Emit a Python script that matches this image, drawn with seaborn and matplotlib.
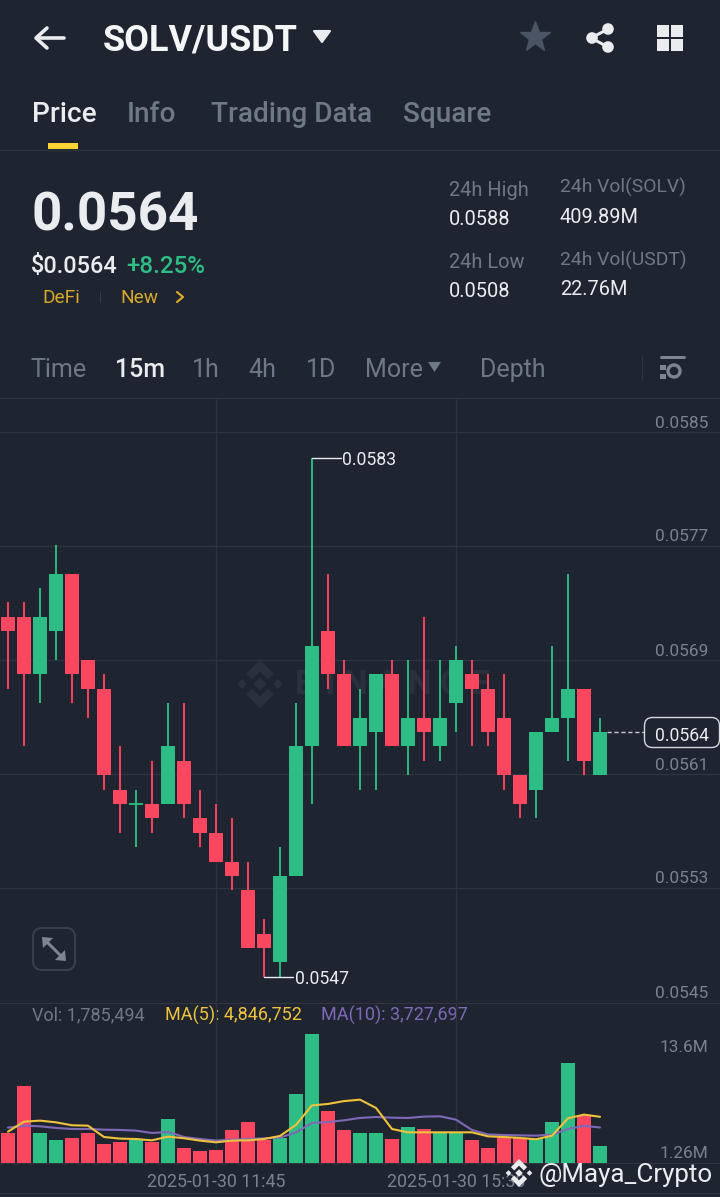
import matplotlib
matplotlib.use("Agg")
import numpy as np
import pandas as pd
import seaborn as sns
import matplotlib.pyplot as plt
from matplotlib.patches import FancyBboxPatch, Polygon, Circle, Rectangle
from matplotlib.transforms import Affine2D

# ---- data ----
opens  = [.0572,.0572,.0568,.0571,.0575,.0569,.0567,.0560,.0559,.0559,.0559,.0562,.0558,.0557,.0555,.0553,.0550,.0548,.0554,.0563,
          .0571,.0568,.0563,.0564,.0568,.0563,.0565,.0563,.0566,.0568,.0567,.0565,.0561,.0560,.0564,.0565,.0567,.0561]
closes = [.0571,.0568,.0572,.0575,.0568,.0567,.0561,.0559,.0559,.0558,.0563,.0559,.0557,.0555,.0554,.0549,.0549,.0554,.0563,.0570,
          .0568,.0563,.0565,.0568,.0563,.0565,.0564,.0565,.0569,.0567,.0564,.0561,.0559,.0564,.0565,.0567,.0562,.0564]
highs  = [.0573,.0573,.0574,.0577,.0575,.0569,.0568,.0563,.0560,.0562,.0566,.0566,.0560,.0559,.0558,.0555,.0551,.0556,.0566,.0583,
          .0575,.0569,.0567,.0568,.0569,.0569,.0572,.0569,.0570,.0569,.0568,.0568,.0561,.0564,.0570,.0575,.0567,.0565]
lows   = [.0567,.0563,.0566,.0569,.0566,.0565,.0560,.0557,.0556,.0557,.0559,.0558,.0556,.0555,.0553,.0549,.0547,.0547,.0554,.0559,
          .0567,.0563,.0560,.0560,.0563,.0561,.0562,.0562,.0564,.0563,.0563,.0560,.0558,.0558,.0564,.0562,.0561,.0561]
volumes = [3.2,8.05,3.1,2.45,2.66,3.1,2.03,2.24,2.38,2.17,4.62,1.61,1.3,1.37,3.5,4.27,2.45,2.6,7.2,13.5,
           5.46,3.5,3.15,3.15,2.49,3.8,3.6,3.15,3.15,2.38,1.61,2.73,2.6,2.5,4.3,10.5,5.0,1.79]
ma5 = [3.29,4.34,4.45,4.27,3.96,3.92,2.73,2.56,2.52,2.38,2.77,2.6,2.35,2.17,2.35,2.38,2.52,2.84,4.0,6.05,
       6.2,6.5,6.65,5.78,3.57,3.22,3.22,3.22,3.22,3.22,2.8,2.73,2.63,2.49,2.87,4.69,5.08,4.85]
ma10 = [3.71,3.92,3.85,3.68,3.57,3.57,3.5,3.47,3.4,3.15,3.26,2.73,2.52,2.35,2.45,2.52,2.59,2.66,3.22,4.2,
        4.3,4.48,4.73,4.83,4.76,4.73,4.87,4.9,4.55,3.47,3.0,2.94,2.9,2.87,2.98,3.57,3.89,3.73]
price_ticks = [.058483,.057692,.0569,.056108,.055317,.054525]
price_tick_labels = ["0.0585","0.0577","0.0569","0.0561","0.0553","0.0545"]
vol_ticks = [1.26,13.6]
vol_tick_labels = ["1.26M","13.6M"]
date_ticks = [13,28]
date_labels = ["2025-01-30 11:45","2025-01-30 15:30"]
last_price = 0.0564

# ---- style ----
BG="#1e2530"; GRID="#2d3440"; LINE="#2f3642"
RED="#fb4660"; GREEN="#2dbd85"; GREY="#7a8290"; WHITE="#eaecef"; YEL="#f0b90b"
PURPLE="#7f68b8"; MAY="#f0c23c"
sns.set_theme(style="dark", rc={"axes.facecolor":"none","figure.facecolor":BG})
plt.rcParams['font.family']=['Roboto','DejaVu Sans']
W,H=720,1197
fig=plt.figure(figsize=(7.2,11.97),dpi=100,facecolor=BG)

def px_axes(y0,y1,z):
    return fig.add_axes([0,(H-y1)/H,1,(y1-y0)/H],zorder=z,facecolor="none")

under=fig.add_axes([0,0,1,1],zorder=0,facecolor="none"); under.set_xlim(0,W); under.set_ylim(H,0); under.axis("off")
over=fig.add_axes([0,0,1,1],zorder=5,facecolor="none"); over.set_xlim(0,W); over.set_ylim(H,0); over.axis("off")

def T(x,y,s,size,color=WHITE,weight="normal",ha="left",ax=under,**k):
    ax.text(x,y+.07*size,s,fontsize=size*.72,color=color,fontweight=weight,ha=ha,va="center",**k)
def L(xs,ys,color=WHITE,lw=2.5,ax=under,**k):
    ax.plot(xs,ys,color=color,lw=lw*.72,solid_capstyle=k.pop("cap","round"),**k)

def logo(ax,cx,cy,r,color):
    cen=[(0,.27),(.27,0),(0,-.27),(-.27,0)]
    for dx in (-.75,.75):
        ax.add_patch(Polygon([(cx+(dx+a*.75)*r,cy+b*.75*r) for a,b in cen],color=color,lw=0))
    ax.add_patch(Polygon([(cx+a*r,cy+b*r) for a,b in cen],color=color,lw=0))
    chev=[(0,1),(.58,.42),(.34,.18),(0,.52),(-.34,.18),(-.58,.42)]
    for s in (1,-1):
        ax.add_patch(Polygon([(cx+a*r,cy+s*b*r) for a,b in chev],color=color,lw=0))

# ---- header ----
L([37,64],[38,38],lw=3.6); L([47,36,47],[28,38,48],lw=3.6)
T(103,38,"SOLV/USDT",36,"#f5f6f7","bold")
under.add_patch(Polygon([(314,31),(330,31),(322,42)],closed=True,color=WHITE,lw=1.5,joinstyle="round"))
under.plot([535],[37],marker="*",ms=23,color="#4a5464",mew=1,mec="#4a5464")
L([610,591,610],[28,38,48],lw=3)
for px,py in [(608,29),(592,38),(608,47)]:
    under.add_patch(Circle((px,py),5.8,color=WHITE,lw=0))
for px,py in [(657,25),(671,25),(657,39),(671,39)]:
    under.add_patch(Rectangle((px,py),12,12,color=WHITE,lw=0))
T(32,113,"Price",28,WHITE,"medium")
for x,s in [(127,"Info"),(211,"Trading Data"),(403,"Square")]:
    T(x,113,s,28,"#6f7886","medium")
under.add_patch(Rectangle((48,143),30,6,color="#fcd535",lw=0))
L([0,720],[150,150],color=LINE,lw=1.2)
T(31,212,"0.0564",53,WHITE,"bold")
T(31,265,"$0.0564",23.5,WHITE,"medium")
T(126,265,"+8.25%",24,GREEN,"medium")
T(42,297,"DeFi",19,"#d9a92a"); T(120,297,"New",19,"#d9a92a")
L([100,100],[292,302],color="#363d49",lw=1)
L([177,183,177],[292,297,302],color="#d9a92a",lw=2.2)
T(449,189,"24h High",20,"#6f7886"); T(449,218,"0.0588",20,WHITE)
T(449,261,"24h Low",20,"#6f7886"); T(449,290,"0.0508",20,WHITE)
T(560,186,"24h Vol(SOLV)",19.3,"#6f7886"); T(560,216,"409.89M",20,WHITE)
T(560,259,"24h Vol(USDT)",19.3,"#6f7886"); T(560,288,"22.76M",20,WHITE)
for x,s in [(30,"Time"),(192,"1h"),(248,"4h"),(306,"1D"),(365,"More"),(480,"Depth")]:
    T(x,368,s,25,"#6f7886")
T(115,368,"15m",25,WHITE,"medium")
under.add_patch(Polygon([(428,362),(441,362),(434.5,372)],color="#6f7886",lw=0))
L([642,642],[356,380],color=LINE,lw=1.2)
L([661,684],[357,357],color="#7d8593",lw=3)
under.add_patch(Rectangle((660,365),6,5,color="#7d8593",lw=0))
under.add_patch(Rectangle((660,374),6,5,color="#7d8593",lw=0))
under.add_patch(Circle((674,371),6,fc="none",ec="#7d8593",lw=2.4))
L([0,720],[398,398],color=LINE,lw=1.2)
L([0,720],[1003,1003],color=LINE,lw=1.2)
L([0,720],[1163,1163],color=LINE,lw=1.2)
L([0,720],[1193,1193],color=LINE,lw=1.2)

# watermark
logo(under,260,684,24,"#2a313c")
T(295,683,"B I N A N C E",34,"#2a313c","bold")

# expand button
under.add_patch(FancyBboxPatch((36,931),36,36,boxstyle="round,pad=3,rounding_size=9",fc="none",ec="#39404c",lw=1.4))
L([47,61],[942,956],color="#7d8593",lw=3)
under.add_patch(Polygon([(42,937),(53,938),(43,948)],color="#7d8593",lw=0))
under.add_patch(Polygon([(66,961),(55,960),(65,950)],color="#7d8593",lw=0))

# ---- price panel ----
idx=np.arange(len(opens))
df=pd.DataFrame(dict(i=idx,o=opens,c=closes,h=highs,l=lows,v=volumes,m5=ma5,m10=ma10))
df["up"]=df.c>=df.o
df["bottom"]=df[["o","c"]].min(axis=1)
df["body"]=(df.o-df.c).abs()
colors=df.up.map({True:GREEN,False:RED})

ax=px_axes(399,1002,2)
ax.vlines(df.i,df.l,df.h,colors=colors,lw=1.35,zorder=2)
for up,col in [(True,GREEN),(False,RED)]:
    sub=df[df.up==up]
    sns.barplot(data=sub,x="i",y="body",native_scale=True,color=col,saturation=1,width=.9,gap=0,
                errorbar=None,bottom=sub["bottom"].values,linewidth=0,ax=ax,zorder=3)
doji=df[df.body==0]
ax.hlines(doji.o,doji.i-.45,doji.i+.45,colors=GREEN,lw=1.35,zorder=3)

xlim=(-.5,44.5)
ax.set_xlim(*xlim)
ax.set_ylim(.054525,.0587125)
ax.set_yticks(price_ticks,price_tick_labels)
ax.set_xticks(date_ticks,[])
ax.grid(True,color=GRID,lw=1); ax.set_axisbelow(True)
ax.set(xlabel="",ylabel="")
sns.despine(ax=ax,left=True,bottom=True,right=True,top=True)
ax.yaxis.tick_right()
ax.tick_params(axis="y",length=0,pad=-12*.72,labelsize=17.3*.72,labelcolor=GREY)
ax.tick_params(axis="x",length=0)
for t in ax.get_yticklabels():
    t.set_ha("right"); t.set_va("bottom")
    t.set_transform(t.get_transform()+Affine2D().translate(0,1.5))

# extremes
hi=df.loc[df.h.idxmax()]; lo=df.loc[df.l.idxmin()]
ax.plot([hi.i,hi.i+1.8],[hi.h,hi.h],color=WHITE,lw=1,zorder=4)
ax.annotate(f"{hi.h:.4f}",(hi.i+1.88,hi.h),xytext=(0,-1.4),textcoords="offset points",color=WHITE,
            fontsize=17.6*.72,va="center",ha="left",zorder=4)
ax.plot([lo.i,lo.i+1.8],[lo.l,lo.l],color=WHITE,lw=1,zorder=4)
ax.annotate(f"{lo.l:.4f}",(lo.i+1.93,lo.l),xytext=(0,-1.4),textcoords="offset points",color=WHITE,
            fontsize=17.6*.72,va="center",ha="left",zorder=4)

# last price
ax.plot([37.45,40],[last_price,last_price],color="#c8ccd2",lw=1,ls=(0,(3,2)),zorder=4)
over.add_patch(FancyBboxPatch((648,721),68,23,boxstyle="round,pad=3.5,rounding_size=8",fc=BG,ec="#d5d8dc",lw=1))
T(682,735,f"{last_price:.4f}",17.6,WHITE,ha="center",ax=over)

# ---- volume panel ----
T(32,1014,"Vol: 1,785,494",18,"#6f7886")
T(165,1014,"MA(5): 4,846,752",18,MAY)
T(321,1014,"MA(10): 3,727,697",18,PURPLE)

vx=px_axes(1003,1163,2)
for up,col in [(True,GREEN),(False,RED)]:
    sub=df[df.up==up]
    sns.barplot(data=sub,x="i",y="v",native_scale=True,color=col,saturation=1,width=.9,gap=0,
                errorbar=None,linewidth=0,ax=vx,zorder=3)
sns.lineplot(data=df,x="i",y="m10",color=PURPLE,lw=1.5,errorbar=None,ax=vx,zorder=4)
sns.lineplot(data=df,x="i",y="m5",color=MAY,lw=1.5,errorbar=None,ax=vx,zorder=5)
vx.set_xlim(*xlim); vx.set_ylim(0,16.8)
vx.set(xlabel="",ylabel="")
vx.set_yticks(vol_ticks,vol_tick_labels)
vx.set_xticks(date_ticks,date_labels)
vx.grid(False); vx.grid(True,axis="x",color=GRID,lw=1); vx.set_axisbelow(True)
sns.despine(ax=vx,left=True,bottom=True,right=True,top=True)
vx.yaxis.tick_right()
vx.tick_params(axis="y",length=0,pad=-12*.72,labelsize=17.3*.72,labelcolor=GREY)
vx.tick_params(axis="x",length=0,pad=10*.72,labelsize=17.8*.72,labelcolor=GREY)
for t,dy in zip(vx.get_yticklabels(),(-1,-12.5)):
    t.set_ha("right")
    t.set_transform(t.get_transform()+Affine2D().translate(0,dy))

# corner watermark
logo(over,519,1173,14,WHITE)
T(538,1173,"@Maya_Crypto",26,WHITE,ax=over)

fig.savefig("out.png",dpi=100,facecolor=BG)
